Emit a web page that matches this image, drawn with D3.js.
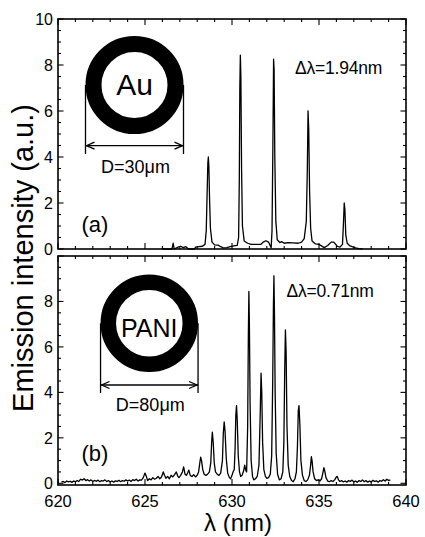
<!DOCTYPE html>
<html><head><meta charset="utf-8">
<script src="https://cdn.jsdelivr.net/npm/d3@7/dist/d3.min.js"></script>
<style>
html,body{margin:0;padding:0;background:#fff;}
svg{display:block;font-family:"Liberation Sans",Arial,sans-serif;}
</style></head>
<body><svg id="c" width="425" height="537"></svg>
<script>
// ---- data ----
const xDomain = [620, 640];
const xTickLabels = [620, 625, 630, 635, 640];
const yTickLabelsTop = [0, 2, 4, 6, 8, 10];
const yTickLabelsBottom = [0, 2, 4, 6, 8];
const panelLabels = ["(a)", "(b)"];
const materials = ["Au", "PANI"];
const diameters = ["D=30\u03bcm", "D=80\u03bcm"];
const spacings = ["\u0394\u03bb=1.94nm", "\u0394\u03bb=0.71nm"];

// panel (a): Au ring, wavelength (nm) / intensity (a.u.)
const spectrumAu = [
[626.0,0.0],[626.55,0.0],[626.62,0.25],[626.68,0.0],[626.9,0.08],[627.05,0.12],[627.2,0.06],[627.35,0.1],[627.5,0.0],
[627.85,0.0],[627.9,0.08],[628.1,0.1],[628.3,0.12],[628.45,0.2],[628.52,0.8],[628.57,2.4],[628.61,3.7],[628.64,4.0],
[628.67,3.6],[628.71,2.2],[628.76,0.9],[628.85,0.3],[629.0,0.18],[629.2,0.17],[629.35,0.1],[629.5,0.05],[629.7,0.06],
[629.9,0.1],[630.1,0.14],[630.3,0.16],[630.38,0.5],[630.42,3.0],[630.45,7.0],[630.48,8.43],[630.51,7.5],[630.55,3.5],
[630.6,1.0],[630.7,0.35],[630.9,0.25],[631.1,0.2],[631.4,0.2],[631.65,0.2],[631.8,0.3],[631.95,0.36],[632.1,0.3],
[632.25,0.05],[632.3,0.8],[632.35,4.5],[632.39,8.25],[632.42,7.8],[632.46,4.0],[632.52,1.2],[632.6,0.4],[632.75,0.28],
[632.85,0.32],[633.0,0.25],[633.2,0.28],[633.5,0.27],[633.8,0.25],[634.0,0.3],[634.15,0.45],[634.27,1.2],[634.33,3.5],
[634.37,6.0],[634.41,5.2],[634.46,2.5],[634.52,0.9],[634.6,0.35],[634.8,0.22],[635.0,0.2],[635.3,0.06],[635.5,0.15],
[635.7,0.3],[635.85,0.3],[636.05,0.12],[636.2,0.08],[636.35,0.2],[636.41,1.2],[636.45,2.0],[636.49,1.7],[636.54,0.6],
[636.62,0.25],[636.75,0.15],[636.9,0.1],[637.1,0.05],[637.3,0.02],[637.5,0.0]
];

// panel (b): PANI ring
const spectrumPANI = [
[620.2,0.05],[620.3,0.08],[620.4,0.03],[620.5,0.1],[620.6,0.06],[620.7,0.09],[620.8,0.04],[620.9,0.1],[621.0,0.07],
[621.1,0.12],[621.2,0.08],[621.3,0.18],[621.4,0.14],[621.5,0.2],[621.6,0.12],[621.7,0.16],[621.8,0.1],[621.9,0.15],
[622.0,0.08],[622.1,0.13],[622.2,0.09],[622.3,0.14],[622.4,0.07],[622.5,0.12],[622.6,0.1],[622.7,0.15],[622.8,0.08],
[622.9,0.12],[623.0,0.06],[623.1,0.1],[623.2,0.05],[623.3,0.11],[623.4,0.08],[623.5,0.13],[623.6,0.07],[623.7,0.12],
[623.8,0.09],[623.9,0.15],[624.0,0.1],[624.1,0.14],[624.2,0.08],[624.3,0.16],[624.4,0.12],[624.5,0.18],[624.6,0.1],
[624.7,0.15],[624.8,0.14],[624.9,0.25],[625.0,0.45],[625.08,0.3],[625.15,0.12],[625.25,0.2],[625.35,0.15],[625.45,0.25],
[625.55,0.18],[625.65,0.22],[625.75,0.3],[625.85,0.2],[625.95,0.28],[626.05,0.5],[626.12,0.35],[626.2,0.22],[626.3,0.3],
[626.4,0.2],[626.5,0.35],[626.6,0.28],[626.7,0.38],[626.8,0.5],[626.88,0.32],[626.95,0.25],[627.05,0.35],[627.15,0.5],
[627.22,0.72],[627.3,0.4],[627.38,0.35],[627.45,0.45],[627.52,0.58],[627.6,0.35],[627.7,0.3],[627.8,0.38],[627.9,0.28],
[628.0,0.35],[628.08,0.5],[628.15,0.9],[628.2,1.15],[628.25,1.0],[628.32,0.6],[628.4,0.4],[628.5,0.35],[628.6,0.4],
[628.7,0.5],[628.78,0.9],[628.83,1.8],[628.87,2.25],[628.92,1.8],[628.98,0.9],[629.05,0.5],[629.15,0.4],[629.25,0.35],
[629.35,0.45],[629.45,1.0],[629.5,2.2],[629.55,2.7],[629.6,2.3],[629.67,1.1],[629.75,0.45],[629.85,0.25],[629.92,0.2],
[630.0,0.35],[630.07,0.52],[630.13,0.6],[630.18,1.6],[630.22,3.0],[630.26,3.42],[630.3,2.8],[630.36,1.2],[630.43,0.5],
[630.5,0.3],[630.58,0.35],[630.67,0.55],[630.73,0.8],[630.78,0.6],[630.84,0.5],[630.9,2.5],[630.94,6.5],[630.97,8.44],
[631.0,7.0],[631.04,3.5],[631.1,1.0],[631.18,0.3],[631.25,0.15],[631.35,0.2],[631.45,0.3],[631.55,0.8],[631.62,3.0],
[631.67,4.85],[631.71,4.0],[631.76,1.8],[631.83,0.6],[631.92,0.3],[632.0,0.22],[632.1,0.25],[632.2,0.4],[632.28,1.2],
[632.34,4.5],[632.38,7.8],[632.41,9.13],[632.44,7.5],[632.48,4.0],[632.54,1.3],[632.62,0.4],[632.72,0.15],[632.82,0.2],
[632.92,0.5],[632.98,1.8],[633.03,5.0],[633.07,6.75],[633.11,5.8],[633.16,2.5],[633.23,0.8],[633.32,0.3],[633.42,0.12],
[633.52,0.07],[633.62,0.2],[633.7,0.5],[633.76,1.6],[633.81,3.2],[633.85,3.42],[633.9,2.6],[633.96,1.0],[634.05,0.35],
[634.15,0.12],[634.25,0.08],[634.35,0.15],[634.45,0.35],[634.52,0.8],[634.56,1.17],[634.6,1.0],[634.66,0.5],[634.75,0.2],
[634.85,0.12],[634.95,0.15],[635.05,0.1],[635.15,0.2],[635.22,0.45],[635.28,0.69],[635.33,0.55],[635.4,0.25],[635.5,0.1],
[635.6,0.07],[635.7,0.12],[635.8,0.08],[635.9,0.15],[636.0,0.28],[636.05,0.3],[636.12,0.15],[636.2,0.08],[636.3,0.12],
[636.4,0.06],[636.5,0.1],[636.6,0.05],[636.7,0.12],[636.8,0.08],[636.9,0.14],[637.0,0.06],[637.1,0.1],[637.2,0.04],
[637.3,0.12],[637.4,0.08],[637.5,0.15],[637.6,0.07],[637.7,0.12],[637.8,0.05],[637.9,0.1],[638.0,0.06],[638.1,0.13],
[638.2,0.08],[638.3,0.11],[638.4,0.05],[638.5,0.12],[638.6,0.09],[638.7,0.16],[638.8,0.1],[638.9,0.18],[639.0,0.12],
[639.1,0.15]
];

// ---- drawing ----
const svg = d3.select("#c");
const left = 58, right = 406;
const x = d3.scaleLinear().domain(xDomain).range([left, right]);

const panels = [
  {top:19, bottom:249, yDomain:[0,10], data:spectrumAu, yTicks:yTickLabelsTop,
   ring:{cx:134.5, cy:85, r:41, w:16, textY:94.5, fs:30, dimY:154, arrowY:145.7, dimTextY:173},
   lab:{x:81.5, y:232}, dl:{x:295, y:74}},
  {top:256, bottom:485, yDomain:[-0.075,10], data:spectrumPANI, yTicks:yTickLabelsBottom,
   ring:{cx:149.3, cy:323.3, r:41, w:15.5, textY:337.3, fs:25, dimY:393, arrowY:385, dimTextY:410.7},
   lab:{x:81.5, y:461}, dl:{x:286.5, y:296.7}}
];

panels.forEach((p, i) => {
  const y = d3.scaleLinear().domain(p.yDomain).range([p.bottom, p.top]);
  const g = svg.append("g");

  // minor/major ticks (inward), all four sides
  const xMinor = d3.range(621, 640, 1).filter(v => v % 5 !== 0);
  const yMinor = d3.range(0.5, 10, 0.5).filter(v => v % 2 !== 0);
  const yMajor = [0,2,4,6,8,10];
  const tk = g.append("g").attr("stroke","#000").attr("stroke-width",1.1);
  xMinor.forEach(v => {
    tk.append("line").attr("x1",x(v)).attr("x2",x(v)).attr("y1",p.bottom).attr("y2",p.bottom-3);
    tk.append("line").attr("x1",x(v)).attr("x2",x(v)).attr("y1",p.top).attr("y2",p.top+3);
  });
  xTickLabels.forEach(v => {
    tk.append("line").attr("x1",x(v)).attr("x2",x(v)).attr("y1",p.bottom).attr("y2",p.bottom-6);
    tk.append("line").attr("x1",x(v)).attr("x2",x(v)).attr("y1",p.top).attr("y2",p.top+6);
  });
  yMinor.forEach(v => {
    tk.append("line").attr("x1",left).attr("x2",left+3).attr("y1",y(v)).attr("y2",y(v));
    tk.append("line").attr("x1",right).attr("x2",right-3).attr("y1",y(v)).attr("y2",y(v));
  });
  yMajor.forEach(v => {
    tk.append("line").attr("x1",left).attr("x2",left+5.5).attr("y1",y(v)).attr("y2",y(v));
    tk.append("line").attr("x1",right).attr("x2",right-5.5).attr("y1",y(v)).attr("y2",y(v));
  });

  // y tick labels
  g.append("g").selectAll("text").data(p.yTicks).join("text")
    .attr("x", left-5).attr("y", d => y(d)).attr("dy","0.36em")
    .attr("text-anchor","end").attr("font-size",16).text(d => d);

  // data line
  const line = d3.line().x(d => x(d[0])).y(d => y(d[1]));
  g.append("path").datum(p.data).attr("d", line)
    .attr("fill","none").attr("stroke","#000").attr("stroke-width",1.3).attr("stroke-linejoin","round");

  // frame
  g.append("rect").attr("x",left).attr("y",p.top).attr("width",right-left).attr("height",p.bottom-p.top)
    .attr("fill","none").attr("stroke","#000").attr("stroke-width",1.6);

  // ring inset
  const r = p.ring;
  g.append("circle").attr("cx",r.cx).attr("cy",r.cy).attr("r",r.r)
    .attr("fill","none").attr("stroke","#000").attr("stroke-width",r.w);
  g.append("text").attr("x",r.cx).attr("y",r.textY).attr("text-anchor","middle")
    .attr("font-size",r.fs).text(materials[i]);
  const xl = r.cx - r.r - r.w/2, xr = r.cx + r.r + r.w/2;
  const dim = g.append("g").attr("stroke","#000").attr("stroke-width",1.3).attr("fill","none");
  dim.append("line").attr("x1",xl).attr("x2",xl).attr("y1",r.cy).attr("y2",r.dimY);
  dim.append("line").attr("x1",xr).attr("x2",xr).attr("y1",r.cy).attr("y2",r.dimY);
  dim.append("line").attr("x1",xl).attr("x2",xr).attr("y1",r.arrowY).attr("y2",r.arrowY);
  dim.append("path").attr("d",`M${xl+9},${r.arrowY-3.5}L${xl+1},${r.arrowY}L${xl+9},${r.arrowY+3.5}`);
  dim.append("path").attr("d",`M${xr-9},${r.arrowY-3.5}L${xr-1},${r.arrowY}L${xr-9},${r.arrowY+3.5}`);
  g.append("text").attr("x",(xl+xr)/2+1).attr("y",r.dimTextY).attr("text-anchor","middle")
    .attr("font-size",18).text(diameters[i]);

  // labels
  g.append("text").attr("x",p.lab.x).attr("y",p.lab.y).attr("font-size",22).text(panelLabels[i]);
  g.append("text").attr("x",p.dl.x).attr("y",p.dl.y).attr("font-size",17.5).attr("letter-spacing","-0.2").text(spacings[i]);
});

// x tick labels (bottom panel)
svg.append("g").selectAll("text").data(xTickLabels).join("text")
  .attr("x", d => x(d)).attr("y", 506.5).attr("text-anchor","middle")
  .attr("font-size",16.5).text(d => d);

// axis titles
svg.append("text").attr("transform","translate(33,258) rotate(-90)")
  .attr("text-anchor","middle").attr("font-size",29).text("Emission intensity (a.u.)");
svg.append("text").attr("x",238).attr("y",530.5).attr("text-anchor","middle")
  .attr("font-size",24).text("\u03bb (nm)");
</script>
</body></html>
